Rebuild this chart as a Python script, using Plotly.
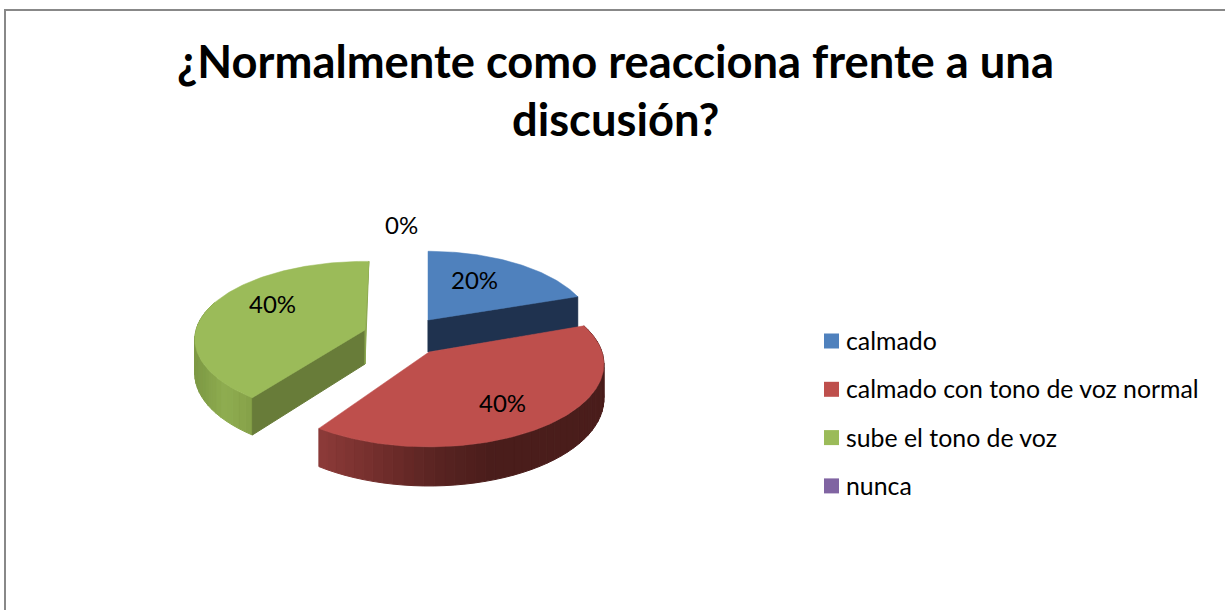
import math
import plotly.graph_objects as go

# ---- data ----
categories = ["calmado", "calmado con tono de voz normal", "sube el tono de voz", "nunca"]
percent_values = [20, 40, 40, 0]
title_lines = ["¿Normalmente como reacciona frente a una", "discusión?"]

# ---- style ----
top_colors = ["#4F81BD", "#BE4F4C", "#9BBB59", "#8064A2"]
FONT = "Lato"
# per-slice projection: centre, radii, perspective, thickness, rotation
geom = [
    dict(cx=428, cy=320, rx=164, ry=79, k=0.13, d=32, rot=0),
    dict(cx=429, cy=352, rx=173, ry=82.5, k=0.15, d=34, rot=-1.5),
    dict(cx=365, cy=330, rx=169, ry=78, k=0.12, d=34, rot=1.5),
    None,
]
label_xy = [(474, 279.5), (502, 402.5), (272, 303.5), (401, 224.5)]
legend_x, legend_y0, legend_dy = 831.5, 341, 48.3


def pt(g, deg, r=1.0, lower=False):
    t = math.radians(deg + g["rot"])
    u, v = r * math.sin(t), r * math.cos(t)
    s = 1 - g["k"] * v
    return (g["cx"] + g["rx"] * u * s,
            g["cy"] - g["ry"] * v * s + (g["d"] * s if lower else 0))


def lerp_hex(stops, f):
    f = max(0, min(1, f))
    pos = f * (len(stops) - 1)
    i = min(int(pos), len(stops) - 2)
    w = pos - i
    a = [int(stops[i][j:j + 2], 16) for j in (1, 3, 5)]
    b = [int(stops[i + 1][j:j + 2], 16) for j in (1, 3, 5)]
    return "#%02x%02x%02x" % tuple(round(a[n] + (b[n] - a[n]) * w) for n in range(3))


fig = go.Figure()


def poly(pts, color, width=1.0):
    fig.add_trace(go.Scatter(
        x=[p[0] for p in pts] + [pts[0][0]], y=[p[1] for p in pts] + [pts[0][1]],
        mode="lines", fill="toself", fillcolor=color,
        line=dict(color=color, width=width), hoverinfo="skip", showlegend=False))


def wall(g, a0, a1, stops, x0, x1):
    a = a0
    while a < a1 - 1e-6:
        b = min(a + 3, a1)
        p1, p2 = pt(g, a), pt(g, b)
        f = ((p1[0] + p2[0]) / 2 - x0) / (x1 - x0)
        poly([p1, p2, pt(g, b, lower=True), pt(g, a, lower=True)], lerp_hex(stops, f), 1.0)
        a = b


def top(g, a0, a1, color):
    n = max(2, int(a1 - a0))
    pts = [pt(g, 0, 0)] + [pt(g, a0 + (a1 - a0) * i / n) for i in range(n + 1)]
    poly(pts, color, 0.5)


# cumulative slice angles derived from the values
total = sum(percent_values)
angles = []
acc = 0
for v in percent_values:
    angles.append((acc / total * 360, (acc + v) / total * 360))
    acc += v

# green
g = geom[2]; a0, a1 = angles[2]
wall(g, a0, a1 - 70, ["#7d9944", "#8fad50", "#849f48"], 196, 254)
poly([pt(g, 0, 0), pt(g, a0), pt(g, a0, lower=True), pt(g, 0, 0, lower=True)], "#687C39")
poly([pt(g, 0, 0), pt(g, a1), pt(g, 0, 0, lower=True)], "#8AA64E")
top(g, a0, a1, top_colors[2])

# blue
g = geom[0]; a0, a1 = angles[0]
poly([pt(g, 0, 0), pt(g, a1), pt(g, a1, lower=True), pt(g, 0, 0, lower=True)], "#1F324F")
top(g, a0, a1, top_colors[0])

# red
g = geom[1]; a0, a1 = angles[1]
wall(g, a0, a1, ["#8c3b39", "#732e2c", "#5a2422", "#4a1d1b", "#4a1d1b", "#4a1d1b"], 320, 603)
top(g, a0, a1, top_colors[1])

# legend swatches
for i, c in enumerate(top_colors):
    fig.add_trace(go.Scatter(
        x=[legend_x], y=[legend_y0 + i * legend_dy], mode="markers", name=categories[i],
        marker=dict(symbol="square", size=15, color=c, line=dict(width=0)),
        hoverinfo="name", showlegend=False))

ann = []
for v, (x, y) in zip(percent_values, label_xy):
    ann.append(dict(x=x, y=y, text=f"{v}%", showarrow=False, xanchor="center", yanchor="middle",
                    font=dict(family=FONT, size=24, color="#000000")))
for i, c in enumerate(categories):
    ann.append(dict(x=844, y=legend_y0 - 1 + i * legend_dy, text=c, showarrow=False,
                    xanchor="left", yanchor="middle",
                    font=dict(family=FONT, size=24.85, color="#000000")))
for line, y in zip(title_lines, (60, 118)):
    ann.append(dict(x=615, y=y, text=line, showarrow=False, xanchor="center", yanchor="middle",
                    font=dict(family=FONT, size=45.3, color="#000000", weight="bold")))

fig.update_layout(
    width=1225, height=610, autosize=False,
    margin=dict(l=0, r=0, t=0, b=0),
    paper_bgcolor="white", plot_bgcolor="white", showlegend=False,
    xaxis=dict(range=[0, 1225], visible=False, fixedrange=True),
    yaxis=dict(range=[610, 0], visible=False, fixedrange=True),
    annotations=ann,
    shapes=[dict(type="rect", xref="x", yref="y", x0=5, y0=10, x1=1235, y1=625,
                 line=dict(color="#888888", width=2), fillcolor="rgba(0,0,0,0)", layer="below")],
)
fig.write_html("out.html", config=dict(displayModeBar=False),
               post_script="document.body.style.margin='0';document.documentElement.style.overflow='hidden';")
